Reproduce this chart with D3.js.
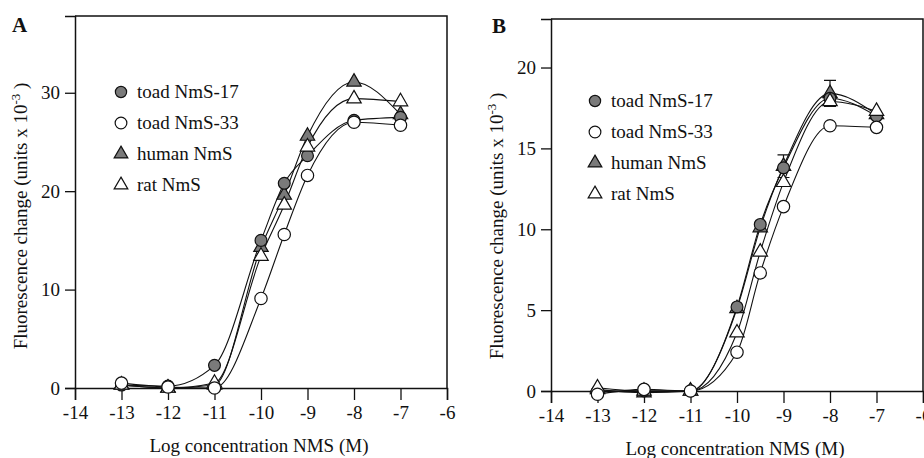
<!DOCTYPE html>
<html>
<head>
<meta charset="utf-8">
<script src="https://cdn.jsdelivr.net/npm/d3@7"></script>
<style>
  body { margin: 0; background: #fff; }
  svg { display: block; font-family: 'Liberation Serif', 'Times New Roman', serif; }
</style>
</head>
<body>
<svg id="chart"></svg>
<script>
const width = 924;
const height = 458;

const logConc = [-13, -12, -11, -10, -9.5, -9, -8, -7];
const seriesNames = ['toad NmS-17', 'toad NmS-33', 'human NmS', 'rat NmS'];
const xTicks = [-14, -13, -12, -11, -10, -9, -8, -7, -6];

// panel A
const aToad17 = [0.3, 0.2, 2.3, 15.0, 20.8, 23.6, 27.2, 27.5];
const aToad33 = [0.5, 0.1, 0.0, 9.1, 15.6, 21.6, 27.0, 26.7];
const aHuman = [0.3, 0.0, 0.3, 14.3, 19.6, 25.6, 31.1, 27.8];
const aRat = [0.3, 0.0, 0.5, 13.4, 18.6, 24.5, 29.4, 29.1];
const aYTicks = [0, 10, 20, 30];

// panel B
const bToad17 = [0.0, 0.0, 0.0, 5.2, 10.3, 13.8, 18.1, 17.0];
const bToad33 = [-0.2, 0.1, 0.0, 2.4, 7.3, 11.4, 16.4, 16.3];
const bHuman = [0.1, -0.1, 0.0, 5.1, 10.1, 13.9, 18.4, 17.1];
const bRat = [0.2, 0.0, 0.0, 3.6, 8.6, 12.9, 17.9, 17.3];
const bHumanErr = [0, 0, 0, 0, 0, 0.7, 0.8, 0];
const bYTicks = [0, 5, 10, 15, 20];

const gray = '#7a7a7a';
const markers = [
    {type: d3.symbolCircle, size: 110, fill: gray},
    {type: d3.symbolCircle, size: 120, fill: '#fff'},
    {type: d3.symbolTriangle, size: 90, fill: gray},
    {type: d3.symbolTriangle, size: 90, fill: '#fff'}
];
// human, toad-17, rat, toad-33 so open symbols sit on top
const drawOrder = [2, 0, 3, 1];

const svg = d3.select('#chart')
    .attr('width', width)
    .attr('height', height);

function drawPanel(p) {
    const g = svg.append('g');

    const x = d3.scaleLinear().domain([-14, -6]).range([p.left, p.right]);
    const y = d3.scaleLinear().domain(p.yDomain).range([p.bottom, p.top]);

    // frame top and right
    g.append('path')
        .attr('d', `M${p.left},${p.top}H${p.right}V${p.bottom}`)
        .attr('fill', 'none')
        .attr('stroke', '#111')
        .attr('stroke-width', 1.5);

    const xAxis = g.append('g')
        .attr('transform', `translate(0, ${p.bottom})`)
        .call(d3.axisBottom(x).tickValues(xTicks).tickSize(12).tickPadding(6).tickFormat(d => String(d)));

    const yAxis = g.append('g')
        .attr('transform', `translate(${p.left}, 0)`)
        .call(d3.axisLeft(y).tickValues(p.yTicks).tickSize(10).tickPadding(5).tickFormat(d => String(d)));

    [xAxis, yAxis].forEach(a => {
        a.select('.domain').attr('stroke', '#111').attr('stroke-width', 1.5);
        a.selectAll('.tick line').attr('stroke', '#111').attr('stroke-width', 1.3);
        a.selectAll('.tick text')
            .attr('fill', '#111')
            .style('font-family', "'Liberation Serif', serif")
            .style('font-size', '19px');
    });

    // axis titles
    g.append('text')
        .attr('x', (p.left + p.right) / 2 - 2)
        .attr('y', p.bottom + 64)
        .attr('text-anchor', 'middle')
        .style('font-size', '19px')
        .attr('fill', '#111')
        .text('Log concentration NMS (M)');

    const yTitle = g.append('text')
        .attr('transform', `translate(${p.yTitleX}, ${p.yTitleY}) rotate(-90)`)
        .attr('text-anchor', 'middle')
        .style('font-size', '19px')
        .attr('fill', '#111');
    yTitle.append('tspan').text('Fluorescence change (units x 10');
    yTitle.append('tspan').attr('dy', -7).style('font-size', '13px').text('-3');
    yTitle.append('tspan').attr('dy', 7).text(' )');

    g.append('text')
        .attr('x', p.letterX)
        .attr('y', p.letterY)
        .style('font-size', '21px')
        .style('font-weight', 'bold')
        .attr('fill', '#111')
        .text(p.letter);

    // curves
    const line = d3.line()
        .x((d, i) => x(logConc[i]))
        .y(d => y(d))
        .curve(d3.curveMonotoneX);

    g.selectAll('.curve').data(p.series)
        .enter()
        .append('path')
        .attr('class', 'curve')
        .attr('d', d => line(d))
        .attr('fill', 'none')
        .attr('stroke', '#111')
        .attr('stroke-width', 1.1);

    // error bars
    if (p.err) {
        const s = p.series[p.errSeries];
        p.err.forEach((e, i) => {
            if (!e) return;
            const cx = x(logConc[i]);
            g.append('path')
                .attr('d', `M${cx},${y(s[i] - e)}V${y(s[i] + e)}M${cx - 6},${y(s[i] + e)}H${cx + 6}M${cx - 6},${y(s[i] - e)}H${cx + 6}`)
                .attr('fill', 'none')
                .attr('stroke', '#111')
                .attr('stroke-width', 1.2);
        });
    }

    // points
    drawOrder.forEach(k => {
        const m = markers[k];
        g.selectAll(null).data(p.series[k])
            .enter()
            .append('path')
            .attr('transform', (d, i) => `translate(${x(logConc[i])}, ${y(d)})`)
            .attr('d', d3.symbol().type(m.type).size(m.size))
            .attr('fill', m.fill)
            .attr('stroke', '#111')
            .attr('stroke-width', 1.2);
    });

    // legend
    seriesNames.forEach((name, k) => {
        const m = markers[k];
        const ly = p.legendY + k * 31;
        g.append('path')
            .attr('transform', `translate(${p.legendX}, ${ly})`)
            .attr('d', d3.symbol().type(m.type).size(m.size * 0.9))
            .attr('fill', m.fill)
            .attr('stroke', '#111')
            .attr('stroke-width', 1.2);
        g.append('text')
            .attr('x', p.legendX + 16)
            .attr('y', ly + 6)
            .style('font-size', '19px')
            .attr('fill', '#111')
            .text(name);
    });
}

drawPanel({
    letter: 'A', letterX: 12, letterY: 32,
    left: 75, right: 447, top: 16, bottom: 388,
    yDomain: [0, 37.8], yTicks: aYTicks,
    yTitleX: 27, yTitleY: 216,
    legendX: 121, legendY: 92,
    series: [aToad17, aToad33, aHuman, aRat]
});

drawPanel({
    letter: 'B', letterX: 492, letterY: 33,
    left: 551, right: 923, top: 19, bottom: 391,
    yDomain: [0, 23], yTicks: bYTicks,
    yTitleX: 503, yTitleY: 226,
    legendX: 595, legendY: 101,
    series: [bToad17, bToad33, bHuman, bRat],
    err: bHumanErr, errSeries: 2
});
</script>
</body>
</html>
